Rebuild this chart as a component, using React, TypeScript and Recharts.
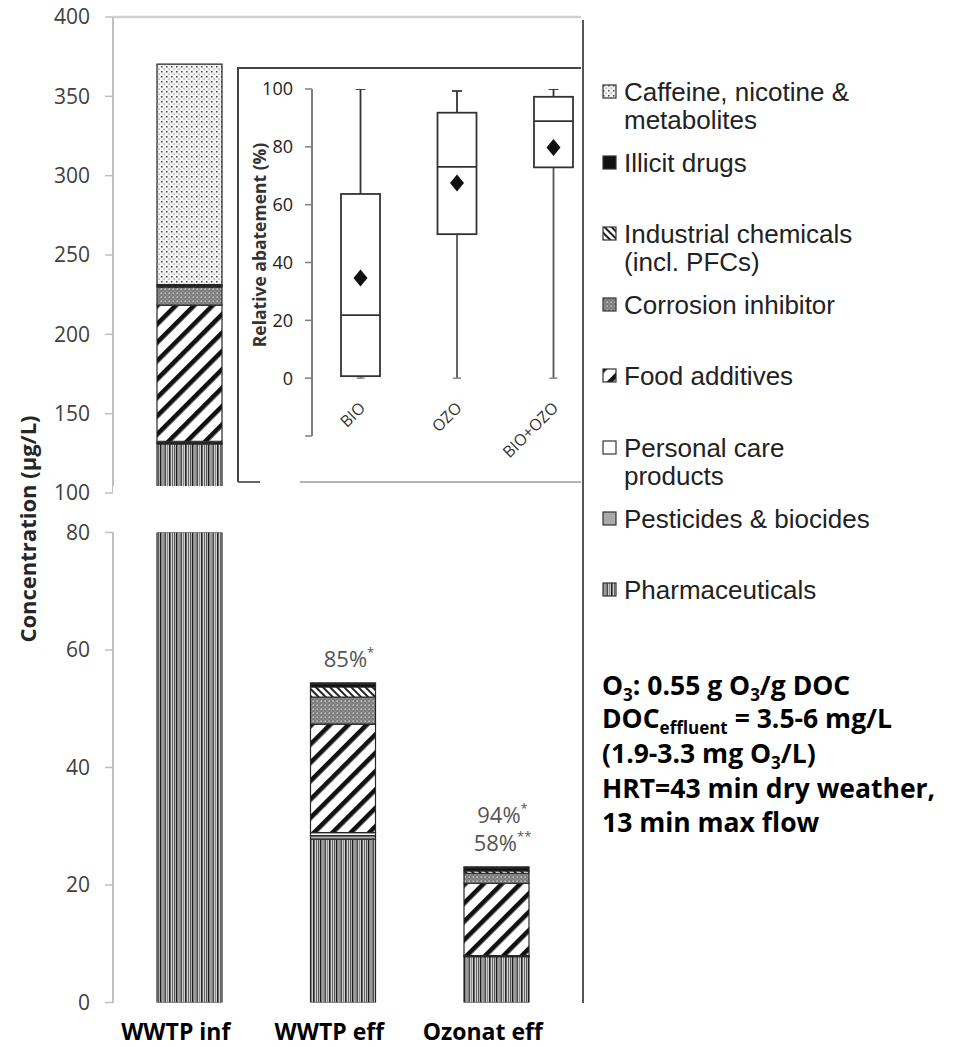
import React from 'react';
import {
  BarChart,
  Bar,
  XAxis,
  YAxis,
  Legend,
  ReferenceArea,
  LabelList,
  ComposedChart,
} from 'recharts';

// ---- Concentrations (µg/L) per substance group, stacked bottom to top ----
const sites = ['WWTP inf', 'WWTP eff', 'Ozonat eff'];
const pharmaceuticals = [131, 27.8, 7.8];
const pesticides = [0.8, 0.6, 0.1];
const personalCare = [0.8, 0.5, 0.1];
const foodAdditives = [85.8, 18.5, 12.3];
const corrosionInhibitor = [11.3, 4.6, 1.7];
const industrialChemicals = [0.8, 1.7, 0.4];
const illicitDrugs = [0.8, 0.5, 0.5];
const caffeineNicotine = [139, 0.2, 0.2];
const removalNotes = ['', '85%*', '94%*\n58%**'];

const upperTicks = [100, 150, 200, 250, 300, 350, 400];
const lowerTicks = [0, 20, 40, 60, 80];
const axisBreak = [100, 104.4];

// ---- Relative abatement (%) box plots ----
const treatments = ['BIO', 'OZO', 'BIO+OZO'];
const abatementMin = [0, 0, 0];
const abatementQ1 = [0.7, 49.8, 72.9];
const abatementMedian = [21.8, 73.1, 88.9];
const abatementQ3 = [63.7, 91.8, 97.3];
const abatementMax = [100, 99.3, 100];
const abatementMean = [34.6, 67.5, 79.8];
const abatementTicks = [-20, 0, 20, 40, 60, 80, 100];

const font = "'Open Sans', 'Liberation Sans', sans-serif";
const legendFont = "'Liberation Sans', Arial, sans-serif";

const series = [
  { key: 'pharma', name: 'Pharmaceuticals', values: pharmaceuticals, fill: 'url(#pat-pharma)' },
  { key: 'pest', name: 'Pesticides & biocides', values: pesticides, fill: '#a9a9a9' },
  { key: 'pcp', name: 'Personal care\nproducts', values: personalCare, fill: '#ffffff' },
  { key: 'food', name: 'Food additives', values: foodAdditives, fill: 'url(#pat-food)' },
  { key: 'corr', name: 'Corrosion inhibitor', values: corrosionInhibitor, fill: 'url(#pat-corr)' },
  { key: 'ind', name: 'Industrial chemicals\n(incl. PFCs)', values: industrialChemicals, fill: 'url(#pat-ind)' },
  { key: 'illicit', name: 'Illicit drugs', values: illicitDrugs, fill: '#111111' },
  { key: 'caff', name: 'Caffeine, nicotine &\nmetabolites', values: caffeineNicotine, fill: 'url(#pat-caff)' },
];
const seriesOrder = series.map((s) => s.key);

const rows = sites.map((site, i) => {
  const row: Record<string, any> = { site, note: removalNotes[i] };
  series.forEach((s) => {
    row[s.key] = s.values[i];
  });
  return row;
});

const boxRows = treatments.map((treatment, i) => ({
  treatment,
  min: abatementMin[i],
  q1: abatementQ1[i],
  median: abatementMedian[i],
  q3: abatementQ3[i],
  max: abatementMax[i],
  mean: abatementMean[i],
}));

const edgeTicks = [...sites.map((_, i) => i), sites.length];

function Patterns() {
  return (
    <svg width={0} height={0} style={{ position: 'absolute' }}>
      <defs>
        <pattern id="pat-pharma" patternUnits="userSpaceOnUse" width={16} height={8}>
          <rect width={16} height={8} fill="#d0d0d0" />
          <rect x={0} width={1.4} height={8} fill="#1a1a1a" />
          <rect x={2.5} width={1} height={8} fill="#666" />
          <rect x={4.5} width={1.3} height={8} fill="#2a2a2a" />
          <rect x={7} width={1} height={8} fill="#888" />
          <rect x={9} width={1.6} height={8} fill="#222" />
          <rect x={12} width={1} height={8} fill="#666" />
          <rect x={14.2} width={1} height={8} fill="#3a3a3a" />
        </pattern>
        <pattern id="pat-food" patternUnits="userSpaceOnUse" width={13} height={13} patternTransform="rotate(45)">
          <rect width={13} height={13} fill="#fff" />
          <rect width={4.6} height={13} fill="#111" />
        </pattern>
        <pattern id="pat-ind" patternUnits="userSpaceOnUse" width={5} height={5} patternTransform="rotate(-45)">
          <rect width={5} height={5} fill="#fff" />
          <rect width={2} height={5} fill="#222" />
        </pattern>
        <pattern id="pat-corr" patternUnits="userSpaceOnUse" width={4} height={4}>
          <rect width={4} height={4} fill="#7c7c7c" />
          <rect x={0.5} y={0.5} width={1.3} height={1.3} fill="#e2e2e2" />
          <rect x={2.5} y={2.5} width={1} height={1} fill="#b0b0b0" />
        </pattern>
        <pattern id="pat-caff" patternUnits="userSpaceOnUse" width={5} height={5}>
          <rect width={5} height={5} fill="#f4f4f4" />
          <rect x={1} y={1} width={1.5} height={1.5} fill="#444" />
          <rect x={3.5} y={3.5} width={1.2} height={1.2} fill="#888" />
        </pattern>
      </defs>
    </svg>
  );
}

function SeriesLegend(props: any) {
  // top of the stack is listed first
  const items = [...(props.payload ?? [])].sort(
    (a: any, b: any) => seriesOrder.indexOf(b.dataKey) - seriesOrder.indexOf(a.dataKey),
  );
  return (
    <div
      style={{
        position: 'relative',
        width: 360,
        height: 560,
        fontFamily: legendFont,
        fontSize: 26,
        color: '#222',
      }}
    >
      {items.map((item: any, k: number) => (
        <div
          key={String(item.dataKey)}
          style={{ position: 'absolute', left: 0, top: k * 71.1, display: 'flex', alignItems: 'flex-start' }}
        >
          <svg width={16} height={16} style={{ marginTop: 6, marginLeft: 2, flex: 'none' }}>
            <rect
              x={1}
              y={1}
              width={13}
              height={13}
              fill={item.payload?.fill ?? item.color}
              stroke="#333"
              strokeWidth={1.2}
            />
          </svg>
          <div style={{ marginLeft: 6, lineHeight: '28px', whiteSpace: 'pre-line' }}>{item.value}</div>
        </div>
      ))}
    </div>
  );
}

function RemovalNote(props: any) {
  const vb = props.viewBox ?? props;
  const text = String(props.value ?? '');
  if (!text) return null;
  const lines = text.split('\n');
  const cx = vb.x + vb.width / 2 + 6;
  return (
    <g>
      {lines.map((line, i) => {
        const m = line.match(/^([^*]*)(\**)$/) || [line, line, ''];
        const baseline = vb.y - 16 - (lines.length - 1 - i) * 28;
        return (
          <text key={i} x={cx} y={baseline} textAnchor="middle" fontSize={22} fill="#555" fontFamily={font}>
            {m[1]}
            <tspan dy={-10} fontSize={13}>
              {m[2]}
            </tspan>
          </text>
        );
      })}
    </g>
  );
}

function BoxShape(props: any) {
  const { x, y, width, height, payload } = props;
  const { min, max, q1, median, q3, mean } = payload;
  const py = (v: number) => y + (height * (max - v)) / (max - min);
  const cx = x + width / 2;
  const meanY = py(mean);
  return (
    <g>
      <line x1={cx} x2={cx} y1={py(max)} y2={py(q3)} stroke="#333" strokeWidth={1.8} />
      <line x1={cx} x2={cx} y1={py(q1)} y2={py(min)} stroke="#555" strokeWidth={1.8} />
      <line x1={cx - 5} x2={cx + 5} y1={py(max)} y2={py(max)} stroke="#333" strokeWidth={1.8} />
      <line x1={cx - 4} x2={cx + 4} y1={py(min)} y2={py(min)} stroke="#888" strokeWidth={1.5} />
      <rect x={x} y={py(q3)} width={width} height={py(q1) - py(q3)} fill="#fff" stroke="#333" strokeWidth={1.8} />
      <line x1={x} x2={x + width} y1={py(median)} y2={py(median)} stroke="#333" strokeWidth={1.8} />
      <polygon
        points={`${cx},${meanY - 8.5} ${cx + 7},${meanY} ${cx},${meanY + 8.5} ${cx - 7},${meanY}`}
        fill="#111"
      />
    </g>
  );
}

function SlantTick(props: any) {
  const { x, y, payload } = props;
  const ax = x + 6;
  const ay = y - 27;
  return (
    <text
      x={ax}
      y={ay}
      transform={`rotate(-45 ${ax} ${ay})`}
      textAnchor="end"
      fontSize={16}
      fill="#333"
      fontFamily={font}
    >
      {payload.value}
    </text>
  );
}

function AbatementTick(props: any) {
  const { x, y, payload } = props;
  if (payload.value < 0) return null;
  return (
    <text x={x} y={y} dy="0.36em" textAnchor="end" fontSize={18} fill="#222" fontFamily={font}>
      {payload.value}
    </text>
  );
}

function SiteTick(props: any) {
  const { x, y, payload } = props;
  return (
    <text
      x={x - 14}
      y={y}
      dy="0.74em"
      textAnchor="middle"
      fontSize={23}
      fontWeight={700}
      fill="#000"
      fontFamily={font}
    >
      {payload.value}
    </text>
  );
}

const yTickStyle = { fontSize: 21, fill: '#404040', fontFamily: font };

export default function App() {
  return (
    <div style={{ position: 'absolute', left: 0, top: 0, width: 965, height: 1047, background: '#fff' }}>
      <Patterns />

      {/* upper panel: 100–400 µg/L */}
      <div style={{ position: 'absolute', left: 0, top: 0 }}>
        <BarChart
          width={600}
          height={520}
          data={rows}
          margin={{ top: 17, right: 26.5, bottom: 27, left: 53 }}
          barSize={65}
        >
          <XAxis dataKey="site" hide />
          <YAxis
            domain={[upperTicks[0], upperTicks[upperTicks.length - 1]]}
            ticks={upperTicks}
            allowDataOverflow
            width={60}
            axisLine={{ stroke: '#bfbfbf', strokeWidth: 2 }}
            tickLine={{ stroke: '#bfbfbf', strokeWidth: 1.5 }}
            tickSize={8}
            tickMargin={15}
            tick={yTickStyle}
          />
          {series.map((s) => (
            <Bar
              key={s.key}
              dataKey={s.key}
              name={s.name}
              stackId="groups"
              fill={s.fill}
              stroke="#262626"
              strokeWidth={1.2}
              isAnimationActive={false}
            />
          ))}
          <ReferenceArea
            y1={axisBreak[0]}
            y2={axisBreak[1]}
            fill="#fff"
            fillOpacity={1}
            stroke="none"
            ifOverflow="hidden"
            {...({ zIndex: 2000 } as any)}
          />
          <Legend
            layout="vertical"
            align="center"
            verticalAlign="middle"
            wrapperStyle={{ left: 600, top: 78, width: 360 }}
            content={SeriesLegend}
          />
        </BarChart>
      </div>

      {/* lower panel: 0–80 µg/L */}
      <div style={{ position: 'absolute', left: 0, top: 500 }}>
        <BarChart
          width={600}
          height={547}
          data={rows}
          margin={{ top: 32.5, right: 26.5, bottom: 0, left: 53 }}
          barSize={65}
        >
          <XAxis
            xAxisId="edges"
            type="number"
            domain={[0, sites.length]}
            ticks={edgeTicks}
            allowDataOverflow
            tick={false}
            height={0}
            axisLine={{ stroke: '#a6a6a6', strokeWidth: 1.5 }}
            tickLine={{ stroke: '#a6a6a6', strokeWidth: 1.2 }}
            tickSize={6}
          />
          <XAxis
            dataKey="site"
            height={44.5}
            axisLine={false}
            tickLine={false}
            tickSize={0}
            tickMargin={20}
            interval={0}
            tick={<SiteTick />}
          />
          <YAxis
            domain={[lowerTicks[0], lowerTicks[lowerTicks.length - 1]]}
            ticks={lowerTicks}
            allowDataOverflow
            width={60}
            axisLine={{ stroke: '#bfbfbf', strokeWidth: 2 }}
            tickLine={{ stroke: '#bfbfbf', strokeWidth: 1.5 }}
            tickSize={8}
            tickMargin={15}
            tick={yTickStyle}
          />
          {series.map((s, idx) => (
            <Bar
              key={s.key}
              dataKey={s.key}
              name={s.name}
              stackId="groups"
              fill={s.fill}
              stroke="#262626"
              strokeWidth={1.2}
              isAnimationActive={false}
            >
              {idx === series.length - 1 ? <LabelList dataKey="note" content={RemovalNote} /> : null}
            </Bar>
          ))}
        </BarChart>
      </div>

      {/* inset: relative abatement */}
      <div style={{ position: 'absolute', left: 238, top: 68, width: 344, height: 414, overflow: 'hidden' }}>
        <ComposedChart
          width={380}
          height={398}
          data={boxRows}
          margin={{ top: 21, right: 16.5, bottom: 0, left: 0 }}
        >
          <XAxis
            dataKey="treatment"
            height={30}
            axisLine={false}
            tickLine={false}
            tickSize={0}
            tickMargin={0}
            interval={0}
            tick={<SlantTick />}
          />
          <YAxis
            domain={[abatementTicks[0], abatementTicks[abatementTicks.length - 1]]}
            ticks={abatementTicks}
            allowDataOverflow
            width={74}
            axisLine={{ stroke: '#7f7f7f', strokeWidth: 2 }}
            tickLine={{ stroke: '#7f7f7f', strokeWidth: 1.5 }}
            tickSize={7}
            tickMargin={12}
            tick={<AbatementTick />}
          />
          <Bar
            dataKey={(d: any) => [d.min, d.max]}
            barSize={39}
            shape={<BoxShape />}
            isAnimationActive={false}
          />
        </ComposedChart>
      </div>

      {/* frame lines, axis titles and dosing notes */}
      <svg
        width={965}
        height={1047}
        style={{ position: 'absolute', left: 0, top: 0, pointerEvents: 'none' }}
      >
        <line x1={113} x2={581} y1={17} y2={17} stroke="#cfcfcf" strokeWidth={2.5} />
        <line x1={583} x2={583} y1={20} y2={1003} stroke="#555" strokeWidth={2} />
        <line x1={238} x2={238} y1={68} y2={482} stroke="#444" strokeWidth={2} />
        <line x1={237} x2={581} y1={68} y2={68} stroke="#444" strokeWidth={2} />
        <line x1={238} x2={260} y1={482} y2={482} stroke="#666" strokeWidth={2} />
        <line x1={300} x2={581} y1={482} y2={482} stroke="#9a9a9a" strokeWidth={1.6} />

        <text
          transform="translate(27 529) rotate(-90)"
          textAnchor="middle"
          dominantBaseline="central"
          fontFamily={font}
          fontWeight={700}
          fontSize={22}
          fill="#262626"
        >
          Concentration (µg/L)
        </text>
        <text
          transform="translate(259 245) rotate(-90)"
          textAnchor="middle"
          dominantBaseline="central"
          fontFamily={font}
          fontWeight={700}
          fontSize={17.5}
          fill="#333"
        >
          Relative abatement (%)
        </text>

        <g fontFamily={font} fontWeight={700} fontSize={26.5} fill="#000">
          <text x={602} y={694.5}>
            O<tspan dy={6} fontSize={17}>3</tspan>
            <tspan dy={-6}>: 0.55 g O</tspan>
            <tspan dy={6} fontSize={17}>3</tspan>
            <tspan dy={-6}>/g DOC</tspan>
          </text>
          <text x={602} y={727.5}>
            DOC<tspan dy={6} fontSize={17}>effluent</tspan>
            <tspan dy={-6}> = 3.5-6 mg/L</tspan>
          </text>
          <text x={602} y={762.5}>
            (1.9-3.3 mg O<tspan dy={6} fontSize={17}>3</tspan>
            <tspan dy={-6}>/L)</tspan>
          </text>
          <text x={602} y={797.5}>HRT=43 min dry weather,</text>
          <text x={602} y={831.5}>13 min max flow</text>
        </g>
      </svg>
    </div>
  );
}
